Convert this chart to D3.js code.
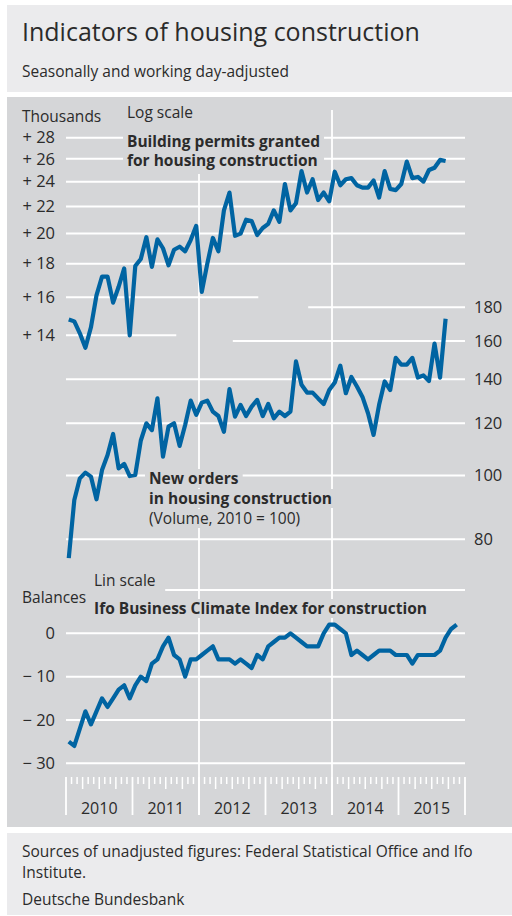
<!DOCTYPE html>
<html>
<head>
<meta charset="utf-8">
<script src="https://cdn.jsdelivr.net/npm/d3@7"></script>
<style>
  body { margin: 0; background: #fff; }
  svg { display: block; font-family: "Open Sans", sans-serif; }
</style>
</head>
<body>
<svg width="512" height="916"></svg>
<script>
// monthly values, Jan 2010 onwards
const permits = [14.8, 14.7, 14.1, 13.4, 14.4, 16.1, 17.2, 17.2, 15.7, 16.6, 17.7, 14.0,
    17.85, 18.3, 19.75, 17.8, 19.6, 19.0, 17.9, 18.9, 19.1, 18.8, 19.55, 20.55,
    16.3, 18.0, 19.7, 18.8, 21.7, 23.1, 19.85, 20.0, 21.0, 20.9, 19.9, 20.4,
    20.7, 21.7, 20.85, 23.8, 21.7, 22.25, 24.9, 23.1, 24.2, 22.5, 23.1, 22.4,
    24.85, 23.7, 24.2, 24.3, 23.7, 23.5, 23.5, 24.1, 22.7, 24.9, 23.4, 23.3,
    23.8, 25.75, 24.3, 24.4, 24.0, 25.0, 25.2, 25.9, 25.8];

const orders = [74.9, 91.8, 99.0, 101.0, 99.6, 92.0, 101.9, 107.4, 115.6, 102.5, 104.1, 99.8,
    100.2, 113.0, 120.0, 117.2, 130.9, 106.8, 118.6, 120.0, 110.9, 119.3, 129.9, 123.6,
    129.0, 129.9, 125.0, 123.1, 116.5, 135.2, 122.8, 128.0, 123.1, 127.2, 130.2, 123.1,
    128.4, 122.1, 125.0, 123.1, 125.0, 149.0, 137.3, 133.6, 133.6, 130.9, 128.4, 134.8,
    138.4, 146.8, 133.3, 141.1, 136.5, 131.6, 124.3, 115.2, 128.0, 138.9, 134.8, 150.8,
    147.3, 147.3, 150.8, 140.8, 141.9, 139.1, 158.6, 140.8, 172.9];

const ifo = [-25, -26, -22, -18, -21, -18, -15, -17, -15, -13, -12, -15,
    -12, -10, -11, -7, -6, -3, -1, -5, -6, -10, -6, -6,
    -5, -4, -3, -6, -6, -6, -7, -6, -7, -8, -5, -6,
    -3, -2, -1, -1, 0, -1, -2, -3, -3, -3, 0, 2,
    2, 1, 0, -5, -4, -5, -6, -5, -4, -4, -4, -5,
    -5, -5, -7, -5, -5, -5, -5, -4, -1, 1, 2];

const years = [2010, 2011, 2012, 2013, 2014, 2015];
const permitTicks = [14, 16, 18, 20, 22, 24, 26, 28];
const orderTicks = [80, 100, 120, 140, 160, 180];
const ifoTicks = [-30, -20, -10, 0];
const ifoGrid = [-30, -20, -10, 0, 10];

const svg = d3.select("svg");
const ink = "#2b2b2b";
const blue = "#0064a2";
const panel = "#d5d6d8";
const light = "#ebebed";

const x = d3.scaleLinear().domain([0, 72]).range([66, 465]);
const yPermits = d3.scaleLog().domain([14, 28]).range([335.3, 137.7]);
const yOrders = d3.scaleLog().domain([80, 180]).range([539.3, 307.3]);
const yIfo = d3.scaleLinear().domain([-30, 10]).range([763.3, 590]);

// gridline extents in months (left, right), where they differ from full width
const permitSpan = {14: [0, 19.9], 16: [0, 34.7]};
const orderSpan = {160: [30.1, 72], 180: [43.7, 72]};
const ifoSpan = {10: [17.9, 72]};

// backgrounds
svg.append("rect").attr("x", 7).attr("y", 5).attr("width", 505).attr("height", 87).attr("fill", light);
svg.append("rect").attr("x", 7).attr("y", 97).attr("width", 505).attr("height", 730).attr("fill", panel);
svg.append("rect").attr("x", 7).attr("y", 833).attr("width", 505).attr("height", 82).attr("fill", light);

svg.append("text").attr("x", 22).attr("y", 41).attr("font-size", 25).attr("fill", ink)
    .text("Indicators of housing construction");
svg.append("text").attr("x", 22).attr("y", 77).attr("font-size", 15.5).attr("fill", ink)
    .text("Seasonally and working day-adjusted");

// grid
const grid = svg.append("g").attr("stroke", "#fff").attr("stroke-width", 2);

function hLines(ticks, y, span) {
    grid.append("g").selectAll("line")
        .data(ticks)
        .enter().append("line")
            .attr("x1", d => x((span[d] || [0, 72])[0]))
            .attr("x2", d => x((span[d] || [0, 72])[1]))
            .attr("y1", d => y(d))
            .attr("y2", d => y(d));
}
hLines(permitTicks, yPermits, permitSpan);
hLines(orderTicks, yOrders, orderSpan);
hLines(ifoGrid, yIfo, ifoSpan);

// year separators for 2012 and 2014
grid.append("g").selectAll("line")
    .data([24, 48])
    .enter().append("line")
        .attr("x1", d => x(d)).attr("x2", d => x(d))
        .attr("y1", 110).attr("y2", 815)
        .attr("stroke-width", 1.8);

// month ticks along the bottom
grid.append("g").selectAll("line")
    .data(d3.range(73))
    .enter().append("line")
        .attr("x1", d => x(d)).attr("x2", d => x(d))
        .attr("y1", 777)
        .attr("y2", d => d % 12 === 0 ? 815 : (d % 3 === 0 ? 789 : 784))
        .attr("stroke-width", d => d % 12 === 0 ? 1.8 : 1.5);

svg.append("g").selectAll("text")
    .data(years)
    .enter().append("text")
        .attr("x", (d, i) => x(12 * i + 6))
        .attr("y", 814)
        .attr("text-anchor", "middle")
        .attr("font-size", 16)
        .attr("fill", ink)
        .text(d => d);

// labels, each with a panel-coloured box that hides the grid behind it
function label(lines) {
    const g = svg.append("g");
    const bg = g.append("g");
    lines.forEach(l => {
        const t = g.append("text")
            .attr("x", l.x).attr("y", l.y)
            .attr("font-size", l.size || 15.5)
            .attr("font-weight", l.bold ? "bold" : null)
            .attr("fill", ink)
            .text(l.text);
        if (l.mask) {
            const b = t.node().getBBox();
            bg.append("rect").attr("x", b.x - 4).attr("y", b.y + 2)
                .attr("width", b.width + 8).attr("height", b.height - 3)
                .attr("fill", panel);
        }
    });
    return g;
}

label([
    {text: "Thousands", x: 22, y: 122},
    {text: "Balances", x: 22, y: 603}
]);

// permits header block masks as one box
const ph = svg.append("g");
const phText = ph.append("g");
phText.append("text").attr("x", 127).attr("y", 118).attr("font-size", 15.5).attr("fill", ink).text("Log scale");
phText.append("text").attr("x", 127).attr("y", 147).attr("font-size", 15.5).attr("font-weight", "bold").attr("fill", ink).text("Building permits granted");
phText.append("text").attr("x", 127).attr("y", 166).attr("font-size", 15.5).attr("font-weight", "bold").attr("fill", ink).text("for housing construction");
const pb = phText.node().getBBox();
ph.insert("rect", ":first-child")
    .attr("x", pb.x - 4).attr("y", pb.y - 2)
    .attr("width", pb.width + 8).attr("height", pb.height + 5)
    .attr("fill", panel);

label([
    {text: "New orders", x: 149, y: 484, bold: true, mask: true},
    {text: "in housing construction", x: 149, y: 504, bold: true, mask: true},
    {text: "(Volume, 2010 = 100)", x: 149, y: 524, mask: true},
    {text: "Lin scale", x: 94, y: 586, mask: true},
    {text: "Ifo Business Climate Index for construction", x: 94, y: 614, bold: true, mask: true}
]);

// axis labels
function styleAxis(g) {
    g.select(".domain").remove();
    g.selectAll("text").attr("font-size", 16.5).attr("fill", ink)
        .attr("font-family", "Open Sans, sans-serif");
}

svg.append("g").attr("transform", "translate(58,0)")
    .call(d3.axisLeft(yPermits).tickValues(permitTicks).tickSize(0).tickPadding(3)
        .tickFormat(d => "+ " + d))
    .call(styleAxis);

svg.append("g").attr("transform", "translate(471,0)")
    .call(d3.axisRight(yOrders).tickValues(orderTicks).tickSize(0).tickPadding(3)
        .tickFormat(d => d))
    .call(styleAxis);

svg.append("g").attr("transform", "translate(58,0)")
    .call(d3.axisLeft(yIfo).tickValues(ifoTicks).tickSize(0).tickPadding(3)
        .tickFormat(d => d < 0 ? "\u2212 " + (-d) : d))
    .call(styleAxis);

// series
function series(values, y) {
    const line = d3.line()
        .x((d, i) => x(i + 0.5))
        .y(d => y(d));
    svg.append("path")
        .datum(values)
        .attr("fill", "none")
        .attr("stroke", blue)
        .attr("stroke-width", 4.2)
        .attr("stroke-linejoin", "round")
        .attr("d", line);
}
series(permits, yPermits);
series(orders, yOrders);
series(ifo, yIfo);

// footer
const foot = svg.append("g").attr("font-size", 15.5).attr("fill", ink);
foot.append("text").attr("x", 22).attr("y", 857).text("Sources of unadjusted figures: Federal Statistical Office and Ifo");
foot.append("text").attr("x", 22).attr("y", 878).text("Institute.");
foot.append("text").attr("x", 22).attr("y", 905).text("Deutsche Bundesbank");
</script>
</body>
</html>
